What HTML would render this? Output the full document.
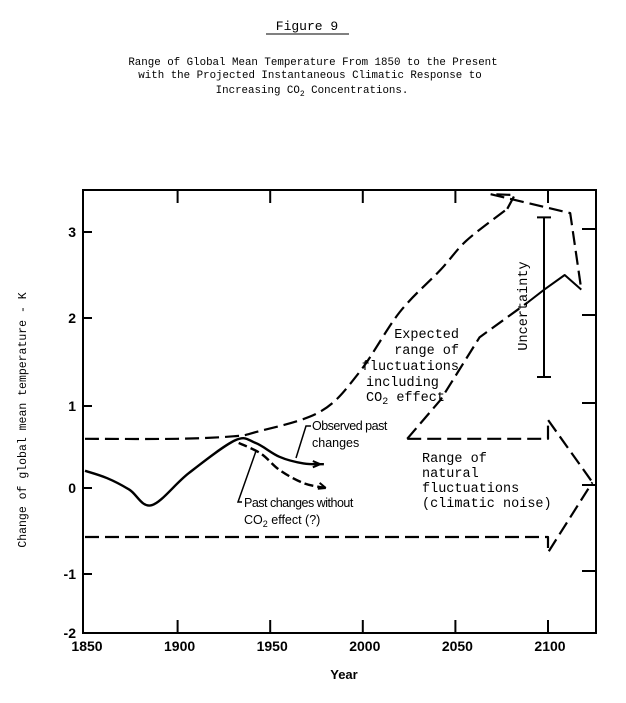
<!DOCTYPE html>
<html><head><meta charset="utf-8"><style>
body{margin:0;background:#fff;width:626px;height:703px;overflow:hidden}
svg{display:block}
.mono{font-family:"Liberation Mono",monospace}
.sans{font-family:"Liberation Sans",sans-serif}
</style></head><body>
<svg id="chart" width="626" height="703" viewBox="0 0 626 703">
<g>
<text x="307" y="30" text-anchor="middle" class="mono" font-size="13">Figure 9</text>
<line x1="266" y1="34" x2="349" y2="34" stroke="#000" stroke-width="1"/>
<text x="313" y="65" text-anchor="middle" class="mono" font-size="10.8">Range of Global Mean Temperature From 1850 to the Present</text>
<text x="310" y="78" text-anchor="middle" class="mono" font-size="10.8">with the Projected Instantaneous Climatic Response to</text>
<text x="312" y="93" text-anchor="middle" class="mono" font-size="10.8">Increasing CO<tspan font-size="8" dy="3">2</tspan><tspan dy="-3"> Concentrations.</tspan></text>
</g>
<g id="plot"></g>
</svg>
<script>
const yearTicks=[1850,1900,1950,2000,2050,2100];
const tempTicks=[3,2,1,0,-1,-2];
const upperYears=[1850,1900,1930,1942,1977,1998,2020,2042,2056,2078];
const upperVals=[0.6,0.6,0.63,0.68,0.93,1.38,2.07,2.56,2.9,3.27];
const arrowTopYears=[2069,2112,2118];
const arrowTopVals=[3.44,3.22,2.33];
const innerYears=[2024,2042,2063,2089];
const innerVals=[0.6,1.07,1.78,2.18];
const projYears=[2089,2098,2109,2118];
const projVals=[2.18,2.33,2.5,2.33];
const noiseTopYears=[2024,2100,2100,2124];
const noiseTopVals=[0.6,0.6,0.83,0.07];
const noiseBotYears=[1850,2100,2100,2124];
const noiseBotVals=[-0.57,-0.57,-0.75,0.07];
const obsYears=[1850,1862,1874,1886,1906,1931,1942,1955,1968,1979];
const obsVals=[0.21,0.12,-0.02,-0.2,0.18,0.58,0.55,0.38,0.3,0.29];
const noCO2Years=[1933,1945,1955,1968,1980];
const noCO2Vals=[0.55,0.42,0.22,0.06,0.0];
const uncYear=[2100];
const uncRange=[1.33,3.17];

const NS='http://www.w3.org/2000/svg';
const g=document.getElementById('plot');
const L=83,R=596,T=190,B=633;
function xS(yr){return 85+(yr-1850)*1.852;}
const tp=[[3,232],[2,318],[1,406],[0,488],[-1,574],[-2,633]];
function yS(v){
  if(v>=3) return 232-(v-3)*86;
  for(let i=0;i<tp.length-1;i++){
    const a=tp[i],b=tp[i+1];
    if(v<=a[0]&&v>=b[0]) return a[1]+(v-a[0])*(b[1]-a[1])/(b[0]-a[0]);
  }
  return 633;
}
function mk(tag,attrs){const e=document.createElementNS(NS,tag);for(const k in attrs)e.setAttribute(k,attrs[k]);g.appendChild(e);return e;}
function path(xs,vs,dash,w,smooth){
  const pts=xs.map((x,i)=>[xS(x),yS(vs[i])]);
  let d='M'+pts[0][0].toFixed(1)+','+pts[0][1].toFixed(1);
  for(let i=1;i<pts.length;i++){
    if(smooth){
      const p0=pts[i-2]||pts[i-1],p1=pts[i-1],p2=pts[i],p3=pts[i+1]||pts[i];
      const c1=[p1[0]+(p2[0]-p0[0])/6,p1[1]+(p2[1]-p0[1])/6];
      const c2=[p2[0]-(p3[0]-p1[0])/6,p2[1]-(p3[1]-p1[1])/6];
      d+=`C${c1[0].toFixed(1)},${c1[1].toFixed(1)} ${c2[0].toFixed(1)},${c2[1].toFixed(1)} ${p2[0].toFixed(1)},${p2[1].toFixed(1)}`;
    } else d+='L'+pts[i][0].toFixed(1)+','+pts[i][1].toFixed(1);
  }
  return mk('path',{d:d,fill:'none',stroke:'#000','stroke-width':w||2.2,'stroke-dasharray':dash||'none','stroke-linejoin':'round'});
}
const fr=mk('rect',{x:L,y:T,width:R-L,height:B-T,fill:'none',stroke:'#000','stroke-width':2});


yearTicks.forEach((yr,i)=>{
  if(i>0){
    const t1=mk('line',{x1:xS(yr),x2:xS(yr),y1:B,y2:B-13,stroke:'#000','stroke-width':2});
    
    
    const t2=mk('line',{x1:xS(yr),x2:xS(yr),y1:T,y2:T+13,stroke:'#000','stroke-width':2});
    
    
  }
  const lb=mk('text',{x:xS(yr)+2,y:651,'text-anchor':'middle','font-size':14,'font-weight':'bold',class:'sans'});
  lb.textContent=yr;
  
  
});
tempTicks.forEach(v=>{
  if(v>-2){
    const t1=mk('line',{x1:L,x2:L+9,y1:yS(v),y2:yS(v),stroke:'#000','stroke-width':2});
    
    
    const t2=mk('line',{x1:R,x2:R-14,y1:yS(v)-3,y2:yS(v)-3,stroke:'#000','stroke-width':2});
    
    
  }
  const lb=mk('text',{x:76,y:yS(v)+5,'text-anchor':'end','font-size':14,'font-weight':'bold',class:'sans'});
  lb.textContent=v;
  
  
});
const dash='14 6';
let p;
p=path(upperYears,upperVals,dash,2.2,true);


p=path([upperYears[upperYears.length-1],2082,2069],[upperVals[upperVals.length-1],3.43,3.44],dash);


p=path(arrowTopYears,arrowTopVals,dash);


p=path(innerYears,innerVals,dash);


p=path(projYears,projVals,'none',2);


p=path(noiseTopYears,noiseTopVals,dash);


p=path(noiseBotYears,noiseBotVals,dash);


p=path(obsYears,obsVals,'none',2.4,true);


p=path(noCO2Years,noCO2Vals,'9 4',2.4,true);


function head(yr,v,ang){
  const x=xS(yr),y=yS(v);
  return mk('path',{d:`M${x},${y} l${-8*Math.cos(ang-0.4)},${-8*Math.sin(ang-0.4)} M${x},${y} l${-8*Math.cos(ang+0.4)},${-8*Math.sin(ang+0.4)}`,stroke:'#000','stroke-width':2,fill:'none'});
}
p=head(obsYears[obsYears.length-1]-2,obsVals[obsVals.length-1],0);


p=head(noCO2Years[noCO2Years.length-1],noCO2Vals[noCO2Vals.length-1],0.3);


const ux=xS(uncYear[0])-4;
p=mk('path',{d:`M${ux},${yS(uncRange[0])}V${yS(uncRange[1])}M${ux-7},${yS(uncRange[0])}h14M${ux-7},${yS(uncRange[1])}h14`,stroke:'#000','stroke-width':2,fill:'none'});


p=mk('path',{d:'M296,458 L306,426 h5',stroke:'#000','stroke-width':1.5,fill:'none'});


p=mk('path',{d:'M256,451 L238,502 h4',stroke:'#000','stroke-width':1.5,fill:'none'});


function txt(x,y,s,cls,fs,anchor,name){
  const t=mk('text',{x:x,y:y,'font-size':fs,class:cls,'text-anchor':anchor||'start'});
  t.innerHTML=s;
  
  
  return t;
}
txt(312,430,'Observed past','sans',12.5,'start','observed-label-1').setAttribute('letter-spacing','-0.5');
txt(312,447,'changes','sans',12.5,'start','observed-label-2');
txt(244,507,'Past changes without','sans',12.5,'start','no-co2-label-1').setAttribute('letter-spacing','-0.5');
txt(244,524,'CO<tspan font-size="9" dy="3">2</tspan><tspan dy="-3"> effect (?)</tspan>','sans',12.5,'start','no-co2-label-2');
txt(459,338,'Expected','mono',13.5,'end','expected-label-1');
txt(459,354,'range of','mono',13.5,'end','expected-label-2');
txt(459,370,'fluctuations','mono',13.5,'end','expected-label-3');
txt(366,386,'including','mono',13.5,'start','expected-label-4');
txt(366,401,'CO<tspan font-size="10" dy="3">2</tspan><tspan dy="-3"> effect</tspan>','mono',13.5,'start','expected-label-5');
txt(422,462,'Range of','mono',13.5,'start','natural-label-1');
txt(422,477,'natural','mono',13.5,'start','natural-label-2');
txt(422,492,'fluctuations','mono',13.5,'start','natural-label-3');
txt(422,507,'(climatic noise)','mono',13.5,'start','natural-label-4');
const u=txt(0,0,'Uncertainty','mono',13.5,'middle','uncertainty-label');
u.setAttribute('transform','translate(527,306) rotate(-90)');
const yl=txt(0,0,'Change of global mean temperature - K','mono',11.5,'middle','y-axis-title');
yl.setAttribute('transform','translate(26,420) rotate(-90)');
txt(344,679,'Year','sans',13,'middle','x-axis-title').setAttribute('font-weight','bold');
</script>
</body></html>
